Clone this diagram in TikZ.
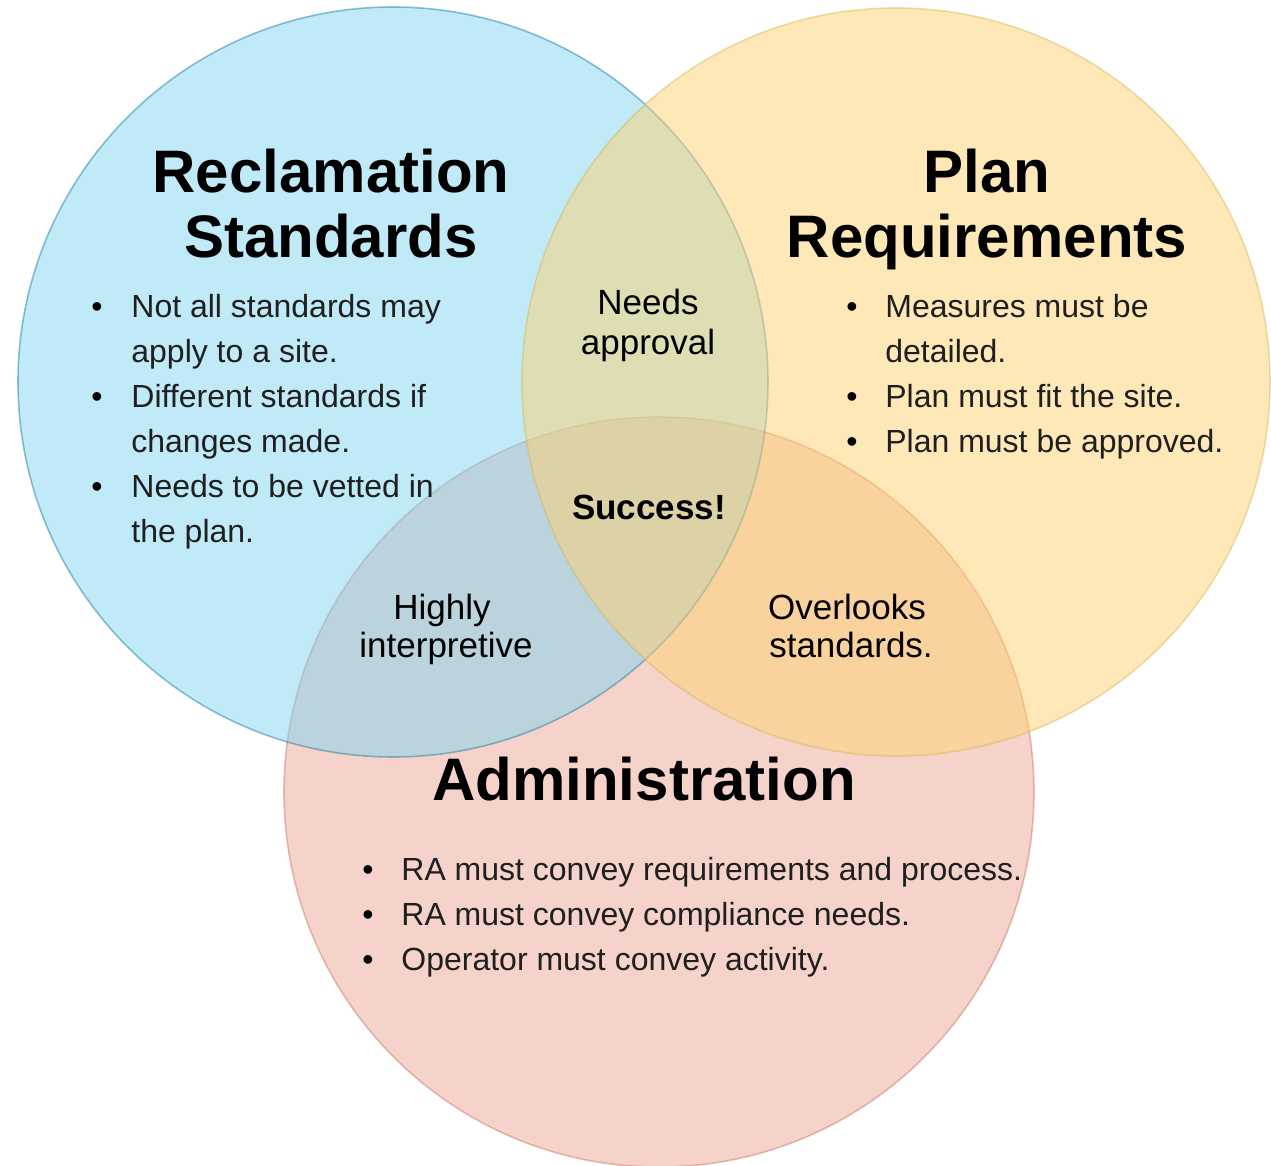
\documentclass[tikz,border=0pt]{standalone}
\usepackage{fontspec}
\setmainfont{Liberation Sans}
\definecolor{fblue}{HTML}{81D5F1}
\definecolor{fyellow}{HTML}{FFD171}
\definecolor{fpink}{HTML}{EBA795}
\definecolor{sblue}{HTML}{10739E}
\definecolor{syellow}{HTML}{D6B656}
\definecolor{spink}{HTML}{C8705F}
\begin{document}
\begin{tikzpicture}[x=0.5pt,y=-0.5pt,
  venn/.style={circle, inner sep=0pt, minimum size=375pt, fill opacity=0.5, draw opacity=0.45, line width=0.8pt},
  title/.style={font=\bfseries\fontsize{30}{33}\selectfont, anchor=base, inner sep=0pt},
  item/.style={font=\fontsize{16}{20}\selectfont, anchor=base west, inner sep=0pt, text=black!88},
  dot/.style={font=\fontsize{16}{20}\selectfont, anchor=base, inner sep=0pt},
  lab/.style={font=\fontsize{17.5}{20}\selectfont, anchor=base, inner sep=0pt},
  boldlab/.style={lab, font=\bfseries\fontsize{17.5}{20}\selectfont}]
\useasboundingbox (0,0) rectangle (1271,1166);
% circles
\node[venn, fill=fpink, draw=spink] (admin) at (659,792) {};
\node[venn, fill=fblue, draw=sblue] (recl) at (393,382) {};
\node[venn, fill=fyellow, draw=syellow, minimum size=374pt] (plan) at (896,382) {};
% titles
\node[title] (t1a) at (331,193) {Reclamation};
\node[title] (t1b) at (331,258) {Standards};
\node[title] (t2a) at (987,193) {Plan};
\node[title] (t2b) at (987,258) {Requirements};
\node[title] (t3) at (644,800) {Administration};
% blue bullets
\node[dot] (b1) at (97,318) {•};
\node[item] (l1) at (131,318) {Not all standards may};
\node[item] (l2) at (131,363) {apply to a site.};
\node[dot] (b2) at (97,408) {•};
\node[item] (l3) at (131,408) {Different standards if};
\node[item] (l4) at (131,453) {changes made.};
\node[dot] (b3) at (97,498) {•};
\node[item] (l5) at (131,498) {Needs to be vetted in};
\node[item] (l6) at (131,543) {the plan.};
% yellow bullets
\node[dot] (y1) at (852,318) {•};
\node[item] (m1) at (885,318) {Measures must be};
\node[item] (m2) at (885,363) {detailed.};
\node[dot] (y2) at (852,408) {•};
\node[item] (m3) at (885,408) {Plan must fit the site.};
\node[dot] (y3) at (852,453) {•};
\node[item] (m4) at (885,453) {Plan must be approved.};
% pink bullets
\node[dot] (p1) at (368,880) {•};
\node[item] (n1) at (401,880) {RA must convey requirements and process.};
\node[dot] (p2) at (368,925) {•};
\node[item] (n2) at (401,925) {RA must convey compliance needs.};
\node[dot] (p3) at (368,970) {•};
\node[item] (n3) at (401,970) {Operator must convey activity.};
% intersection labels
\node[lab] (na1) at (648,315) {Needs};
\node[lab] (na2) at (648,355) {approval};
\node[boldlab] (succ) at (649,520) {Success!};
\node[lab] (hi1) at (442,619) {Highly};
\node[lab] (hi2) at (446,658) {interpretive};
\node[lab] (ov1) at (847,619) {Overlooks};
\node[lab] (ov2) at (851,658) {standards.};
\end{tikzpicture}
\end{document}
